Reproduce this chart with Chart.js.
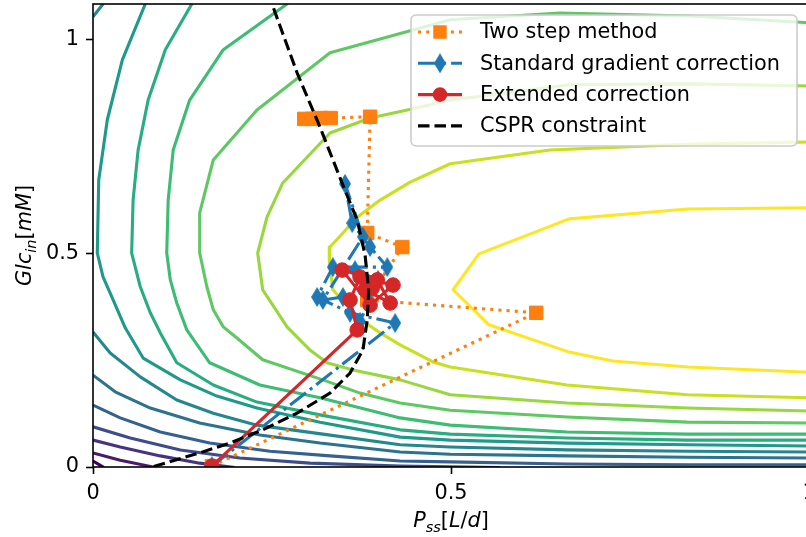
<!DOCTYPE html>
<html>
<head>
<meta charset="utf-8">
<script src="https://cdn.jsdelivr.net/npm/chart.js@4.4.1/dist/chart.umd.min.js"></script>
<style>
  html, body { margin: 0; padding: 0; background: #fff; overflow: hidden; }
  #wrap { position: relative; width: 806px; height: 537px; overflow: hidden; }
  #wrap canvas { position: absolute; left: 0; top: 0; }
</style>
</head>
<body>
<div id="wrap"><canvas id="chart" width="830" height="537"></canvas></div>
<script>
// axis ticks
const xTicks = [0, 0.5, 1];
const xTickLabels = ['0', '0.5', '1'];
const yTicks = [0, 0.5, 1];
const yTickLabels = ['0', '0.5', '1'];
const xRange = [0, 1];
const yRange = [0, 1.084];

// contour lines of the objective, innermost (yellow) first, as [P_ss, Glc_in] vertices
const level1 = [[1.0,.607],[.831,.604],[.665,.581],[.539,.499],[.503,.415],[.553,.333],[.665,.269],[.726,.248],[.831,.234],[1.0,.222]];
const level2 = [[1.0,.761],[.834,.756],[.638,.742],[.499,.710],[.443,.667],[.401,.625],[.369,.585],[.349,.548],[.331,.515],[.330,.485],[.335,.415],[.369,.351],[.401,.314],[.429,.286],[.475,.246],[.499,.234],[.662,.192],[.830,.169],[1.0,.162]];
const level3 = [[1.0,.892],[.834,.897],[.666,.895],[.499,.859],[.439,.836],[.387,.817],[.331,.782],[.265,.665],[.243,.585],[.230,.501],[.237,.415],[.271,.328],[.303,.274],[.327,.244],[.363,.227],[.429,.204],[.499,.169],[.662,.150],[.830,.138],[1.0,.131]];
const level4 = [[1.0,1.040],[.834,1.056],[.652,1.063],[.499,1.047],[.331,.970],[.229,.836],[.168,.719],[.149,.595],[.149,.501],[.159,.422],[.168,.368],[.182,.328],[.201,.302],[.237,.251],[.321,.204],[.373,.173],[.429,.150],[.499,.133],[.662,.117],[.830,.105],[1.0,.103]];
const level5 = [[.280,1.11],[.271,1.084],[.182,.977],[.135,.859],[.112,.742],[.105,.625],[.103,.501],[.108,.438],[.117,.384],[.131,.321],[.163,.244],[.233,.192],[.317,.162],[.429,.115],[.499,.098],[.662,.082],[.830,.077],[1.0,.077]];
const level6 = [[.145,1.11],[.138,1.084],[.101,.977],[.077,.859],[.063,.742],[.056,.625],[.054,.501],[.066,.422],[.080,.361],[.094,.314],[.117,.244],[.168,.192],[.229,.152],[.317,.122],[.429,.087],[.499,.077],[.662,.068],[.830,.063],[1.0,.063]];
const level7 = [[.078,1.11],[.073,1.084],[.041,.953],[.020,.813],[.008,.672],[.006,.501],[.014,.445],[.024,.407],[.045,.326],[.070,.255],[.122,.204],[.173,.166],[.229,.138],[.317,.105],[.429,.070],[.499,.063],[.662,.056],[.830,.052],[1.0,.049]];
const level8Corner = [[0,1.054],[.014,1.084],[.018,1.11]];
const level8 = [[0,.316],[.024,.267],[.066,.211],[.117,.157],[.168,.126],[.229,.098],[.321,.077],[.429,.052],[.499,.047],[.662,.040],[.830,.037],[1.0,.035]];
const level9 = [[0,.215],[.031,.176],[.080,.138],[.149,.103],[.233,.075],[.317,.056],[.429,.035],[.499,.030],[.662,.026],[.830,.023],[1.0,.021]];
const level10 = [[0,.145],[.038,.115],[.094,.082],[.163,.056],[.247,.037],[.331,.026],[.429,.014],[.499,.012],[.662,.007],[.830,.005],[1.0,.005]];
const level11 = [[0,.094],[.052,.068],[.122,.040],[.205,.021],[.303,.009],[.429,.002],[.569,-.001]];
const level12 = [[0,.063],[.038,.047],[.094,.026],[.149,.009],[.198,-.001]];
const level13 = [[0,.033],[.038,.016],[.087,-.001]];
const level14 = [[0,.014],[.015,-.001]];

const contourPaths = [level1, level2, level3, level4, level5, level6, level7, level8Corner, level8, level9, level10, level11, level12, level13, level14];
const contourShades = ['#fde725', '#c7e020', '#98d83e', '#5ec962', '#3dbc74', '#27ad81', '#1f998a', '#25878e', '#25878e', '#2c738e', '#34618d', '#3d4d8a', '#453581', '#471c6d', '#440154'];

// optimisation runs
const seriesLabels = ['Two step method', 'Standard gradient correction', 'Extended correction', 'CSPR constraint'];

const twoStepX = [.166, .619, .383, .432, .383, .387, .332, .318, .306, .295];
const twoStepY = [.002, .361, .391, .515, .548, .820, .817, .817, .815, .815];

const gradX = [.166, .422, .359, .313, .335, .411, .387, .362, .352, .377, .321, .349, .373, .398, .366, .380];
const gradY = [.002, .337, .361, .398, .468, .468, .515, .571, .663, .539, .391, .398, .340, .438, .461, .415];

const extX = [.166, .369, .359, .373, .419, .387, .348, .397, .415, .380, .390];
const extY = [.002, .321, .391, .445, .426, .379, .461, .438, .384, .415, .419];

const csprX = [.244, .250, .285, .317, .349, .369, .380, .385, .383, .377, .359, .331, .285, .237, .191, .149, .082];
const csprY = [1.11, 1.084, .923, .796, .660, .578, .496, .415, .344, .274, .220, .173, .126, .087, .056, .033, 0];

const FONT = '"DejaVu Sans"';
const FS = 20.8;
const LW = 3.1;
const PLOT_TOP = 4;

const toPoints = (xs, ys) => xs.map((x, i) => ({ x, y: ys[i] }));
const pairPoints = pairs => pairs.map(([x, y]) => ({ x, y }));

// matplotlib-style thin diamond marker
function thinDiamond(color, w, h) {
  const c = document.createElement('canvas');
  c.width = w; c.height = h;
  const g = c.getContext('2d');
  g.fillStyle = color;
  g.beginPath();
  g.moveTo(w / 2, 0); g.lineTo(w, h / 2); g.lineTo(w / 2, h); g.lineTo(0, h / 2);
  g.closePath();
  g.fill();
  return c;
}
const diamondMark = thinDiamond('#1f77b4', 12, 20);

const datasets = [];

contourPaths.forEach((path, i) => {
  datasets.push({
    data: pairPoints(path),
    showLine: true,
    borderColor: contourShades[i],
    borderWidth: LW,
    pointRadius: 0,
    pointHoverRadius: 0,
    borderJoinStyle: 'round',
    clip: 0,
    order: 10
  });
});

datasets.push({
  label: seriesLabels[0],
  data: toPoints(twoStepX, twoStepY),
  showLine: true,
  borderColor: '#ff7f0e',
  backgroundColor: '#ff7f0e',
  borderWidth: LW,
  borderDash: [LW, 5.1],
  borderCapStyle: 'butt',
  pointStyle: 'rect',
  pointRadius: 9.5,
  pointBorderWidth: 1,
  clip: 0,
  order: 4
});

datasets.push({
  label: seriesLabels[1],
  data: toPoints(gradX, gradY),
  showLine: true,
  borderColor: '#1f77b4',
  backgroundColor: '#1f77b4',
  borderWidth: LW,
  borderDash: [20, 5, LW, 5],
  borderCapStyle: 'butt',
  pointStyle: diamondMark,
  pointRadius: 8,
  clip: 0,
  order: 3
});

datasets.push({
  label: seriesLabels[2],
  data: toPoints(extX, extY),
  showLine: true,
  borderColor: '#d62728',
  backgroundColor: '#d62728',
  borderWidth: LW,
  pointStyle: 'circle',
  pointRadius: 7.3,
  pointBorderWidth: 1,
  clip: 0,
  order: 2
});

datasets.push({
  label: seriesLabels[3],
  data: toPoints(csprX, csprY),
  showLine: true,
  borderColor: '#000000',
  borderWidth: LW,
  borderDash: [11.5, 5],
  borderCapStyle: 'butt',
  pointRadius: 0,
  clip: 0,
  order: 1
});

function drawMarker(ctx, ds, x, y) {
  const style = ds.pointStyle;
  ctx.setLineDash([]);
  ctx.fillStyle = ds.backgroundColor;
  if (style === 'rect') {
    const s = ds.pointRadius * Math.SQRT1_2;
    ctx.fillRect(x - s, y - s, 2 * s, 2 * s);
  } else if (style === 'circle') {
    ctx.beginPath();
    ctx.arc(x, y, ds.pointRadius, 0, Math.PI * 2);
    ctx.fill();
  } else if (style instanceof HTMLCanvasElement) {
    ctx.drawImage(style, x - style.width / 2, y - style.height / 2);
  }
}

// pin the top of the plot area (chart.js reserves room for a top tick label)
const pinTop = {
  id: 'pinTop',
  afterLayout(chart) {
    const ys = chart.scales.y;
    const shift = ys.top - PLOT_TOP;
    if (shift === 0) return;
    ys.top = PLOT_TOP;
    ys.height = ys.bottom - PLOT_TOP;
    ys.configure();
    chart.chartArea.top = PLOT_TOP;
    chart.chartArea.height = chart.chartArea.bottom - PLOT_TOP;
  }
};

// legend box in the upper right of the axes
const boxLegend = {
  id: 'boxLegend',
  afterDraw(chart) {
    const ctx = chart.ctx;
    const bx = 411, by = 15, bw = 386, bh = 131, r = 5;
    ctx.save();
    ctx.beginPath();
    ctx.moveTo(bx + r, by);
    ctx.arcTo(bx + bw, by, bx + bw, by + bh, r);
    ctx.arcTo(bx + bw, by + bh, bx, by + bh, r);
    ctx.arcTo(bx, by + bh, bx, by, r);
    ctx.arcTo(bx, by, bx + bw, by, r);
    ctx.closePath();
    ctx.fillStyle = 'rgba(255,255,255,0.8)';
    ctx.fill();
    ctx.strokeStyle = '#cccccc';
    ctx.lineWidth = 1.6;
    ctx.stroke();

    const items = chart.data.datasets.filter(d => d.label);
    items.forEach((ds, row) => {
      const y = 32 + row * 31.3;
      ctx.strokeStyle = ds.borderColor;
      ctx.lineWidth = ds.borderWidth;
      ctx.lineCap = 'butt';
      ctx.setLineDash(ds.borderDash || []);
      ctx.beginPath();
      ctx.moveTo(418, y);
      ctx.lineTo(462, y);
      ctx.stroke();
      if (ds.pointRadius > 0) drawMarker(ctx, ds, 440, y);
      ctx.fillStyle = '#000';
      ctx.font = FS + 'px ' + FONT;
      ctx.textBaseline = 'middle';
      ctx.textAlign = 'left';
      ctx.fillText(ds.label, 480, y + 1);
    });
    ctx.restore();
  }
};

// spines on all four sides
const frame = {
  id: 'frame',
  afterDatasetsDraw(chart) {
    const a = chart.chartArea;
    const ctx = chart.ctx;
    ctx.save();
    ctx.strokeStyle = '#000';
    ctx.lineWidth = 1.6;
    ctx.setLineDash([]);
    ctx.strokeRect(a.left, a.top, a.right - a.left, a.bottom - a.top);
    ctx.restore();
  }
};

// mathtext-like axis titles: [text, italic, subscript]
function mathWidth(ctx, pieces) {
  let w = 0;
  for (const [t, it, sub] of pieces) {
    ctx.font = (it ? 'italic ' : '') + (sub ? FS * 0.7 : FS) + 'px ' + FONT;
    w += ctx.measureText(t).width;
  }
  return w;
}
function drawMath(ctx, pieces, cx, baseline) {
  let x = cx - mathWidth(ctx, pieces) / 2;
  for (const [t, it, sub] of pieces) {
    ctx.font = (it ? 'italic ' : '') + (sub ? FS * 0.7 : FS) + 'px ' + FONT;
    ctx.fillText(t, x, baseline + (sub ? 4.5 : 0));
    x += ctx.measureText(t).width;
  }
}
const xTitle = [['P', true, false], ['ss', true, true], ['[', false, false], ['L', true, false], ['/', false, false], ['d', true, false], [']', false, false]];
const yTitle = [['Glc', true, false], ['in', true, true], ['[', false, false], ['mM', true, false], [']', false, false]];

const axisTitles = {
  id: 'axisTitles',
  afterDraw(chart) {
    const ctx = chart.ctx;
    const a = chart.chartArea;
    ctx.save();
    ctx.fillStyle = '#000';
    ctx.textAlign = 'left';
    ctx.textBaseline = 'alphabetic';
    drawMath(ctx, xTitle, (a.left + a.right) / 2, 527);
    ctx.translate(31, (a.top + a.bottom) / 2);
    ctx.rotate(-Math.PI / 2);
    drawMath(ctx, yTitle, 0, 0);
    ctx.restore();
  }
};

const tickFont = { family: 'DejaVu Sans', size: FS };

new Chart(document.getElementById('chart'), {
  type: 'scatter',
  data: { datasets },
  options: {
    responsive: false,
    maintainAspectRatio: false,
    animation: false,
    events: [],
    layout: { padding: { top: PLOT_TOP, right: 21, left: 0, bottom: 0 } },
    plugins: { legend: { display: false }, tooltip: { enabled: false } },
    scales: {
      x: {
        type: 'linear',
        min: xRange[0],
        max: xRange[1],
        afterFit(scale) { scale.height = 70; },
        afterBuildTicks(scale) { scale.ticks = xTicks.map(v => ({ value: v })); },
        grid: { display: true, drawOnChartArea: false, drawTicks: true, tickLength: 7, tickWidth: 1.6, tickColor: '#000' },
        border: { display: false },
        ticks: { color: '#000', font: tickFont, padding: 7, maxRotation: 0, callback: (v, i) => xTickLabels[i] }
      },
      y: {
        type: 'linear',
        min: yRange[0],
        max: yRange[1],
        afterFit(scale) { scale.width = 93; },
        afterBuildTicks(scale) { scale.ticks = yTicks.map(v => ({ value: v })); },
        grid: { display: true, drawOnChartArea: false, drawTicks: true, tickLength: 7, tickWidth: 1.6, tickColor: '#000' },
        border: { display: false },
        ticks: { color: '#000', font: tickFont, padding: 7, callback: (v, i) => yTickLabels[i] }
      }
    }
  },
  plugins: [pinTop, frame, boxLegend, axisTitles]
});
</script>
</body>
</html>
